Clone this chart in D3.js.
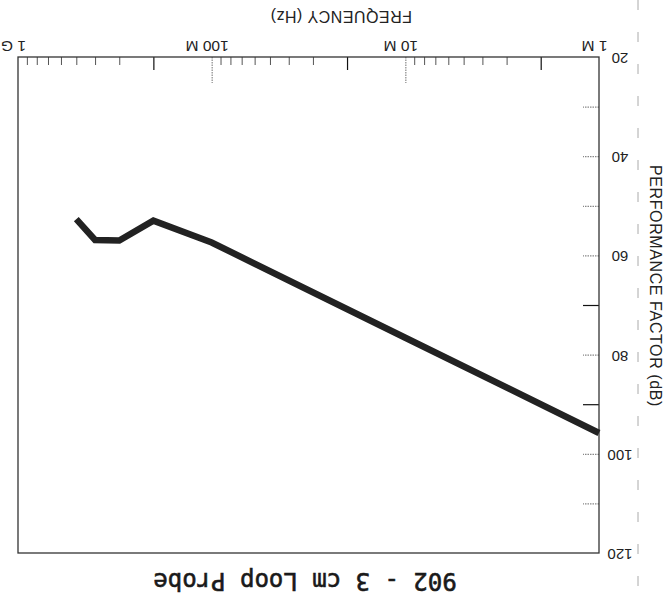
<!DOCTYPE html>
<html><head><meta charset="utf-8">
<script src="https://cdn.jsdelivr.net/npm/d3@7"></script>
<style>html,body{margin:0;padding:0;background:#fff}svg{display:block}</style>
</head><body>
<svg id="chart" width="670" height="602"></svg>
<script>
// Data (chart is printed upside down: rotated 180 degrees)
const freqHz = [5e8, 4e8, 3e8, 2e8, 1e8, 1e7, 1e6];
const perfDb = [52.7, 56.9, 57.0, 53.0, 57.4, 76.6, 95.8];
const xTickValues = [1e6, 1e7, 1e8, 1e9];
const xTickLabels = ["1 M", "10 M", "100 M", "1 G"];
const yTickValues = [20, 40, 60, 80, 100, 120];
const yMinorValues = [30, 40, 50, 60, 70, 80, 90, 100, 110];
const yDarkTicks = [70, 90];
const titleText = "902 - 3 cm Loop Probe";
const xTitleText = "FREQUENCY (Hz)";
const yTitleText = "PERFORMANCE FACTOR (dB)";

const svg = d3.select("#chart");
const L = 18, R = 599, T = 57, B = 553;
const x = d3.scaleLog().domain([1e6, 1e9]).range([R, L]);
const y = d3.scaleLinear().domain([20, 120]).range([T, B]);
const font = "'Liberation Sans', Arial, sans-serif";

// scan artifact line
svg.append("line").attr("x1", 638).attr("x2", 638).attr("y1", 0).attr("y2", 602)
  .attr("stroke", "#aaa").attr("stroke-width", 1).attr("stroke-dasharray", "10,22");

// minor x ticks
const allTicks = x.ticks();
const mant = d => Math.round(d / Math.pow(10, Math.floor(Math.log10(d) + 1e-9)));
const minor = allTicks.filter(d => mant(d) >= 3 && mant(d) <= 9);
const twos = allTicks.filter(d => mant(d) === 2);

const gMinor = svg.append("g").attr("transform", `translate(0,${T})`)
  .call(d3.axisBottom(x).tickValues(minor).tickSize(8).tickFormat(""));
gMinor.select(".domain").remove();
gMinor.selectAll("line").attr("stroke", "#555").attr("stroke-width", 1);

const gTwo = svg.append("g").attr("transform", `translate(0,${T})`)
  .call(d3.axisBottom(x).tickValues(twos).tickSize(13).tickFormat(""));
gTwo.select(".domain").remove();
gTwo.selectAll("line").attr("stroke", "#111").attr("stroke-width", 1.2);

const gDec = svg.append("g").attr("transform", `translate(0,${T})`)
  .call(d3.axisBottom(x).tickValues([1e7, 1e8]).tickSize(26).tickFormat(""));
gDec.select(".domain").remove();
gDec.selectAll("line").attr("stroke", "#888").attr("stroke-width", 1.2).attr("stroke-dasharray", "1.5,1");

// x tick labels
const gXL = svg.append("g").attr("transform", `translate(0,${T})`)
  .call(d3.axisBottom(x).tickValues(xTickValues).tickSize(0).tickFormat((d, i) => xTickLabels[i]));
gXL.select(".domain").remove();
gXL.selectAll("text").attr("y", 0).attr("dy", null)
  .attr("dominant-baseline", "central").attr("text-anchor", "middle")
  .attr("transform", "translate(-5,-11) rotate(180)")
  .attr("font-family", font).attr("font-size", 15.5).attr("fill", "#222");

// y ticks
const gY = svg.append("g").attr("transform", `translate(${R},0)`)
  .call(d3.axisLeft(y).tickValues(yMinorValues).tickSize(16).tickFormat(""));
gY.select(".domain").remove();
gY.selectAll("line")
  .attr("stroke", d => yDarkTicks.includes(d) ? "#111" : "#888")
  .attr("stroke-width", 1.2)
  .attr("stroke-dasharray", d => yDarkTicks.includes(d) ? null : "1.5,1");

// y labels
const gYL = svg.append("g").attr("transform", `translate(${R},0)`)
  .call(d3.axisRight(y).tickValues(yTickValues).tickSize(0));
gYL.select(".domain").remove();
gYL.selectAll("text").attr("x", 0).attr("dy", null)
  .attr("dominant-baseline", "central").attr("text-anchor", "middle")
  .attr("transform", "translate(21,1) rotate(180)")
  .attr("font-family", font).attr("font-size", 15).attr("fill", "#222");

// frame
svg.append("rect").attr("x", L).attr("y", T).attr("width", R - L).attr("height", B - T)
  .attr("fill", "none").attr("stroke", "#333").attr("stroke-width", 1.3);

// data line
const pts = freqHz.map((f, i) => [f, perfDb[i]]);
svg.append("path").datum(pts)
  .attr("d", d3.line().x(d => x(d[0])).y(d => y(d[1])))
  .attr("fill", "none").attr("stroke", "#222").attr("stroke-width", 6.5)
  .attr("stroke-linejoin", "miter").attr("stroke-linecap", "butt");

// titles
svg.append("text").attr("transform", "translate(341,16) rotate(180)")
  .attr("text-anchor", "middle").attr("dominant-baseline", "central")
  .attr("font-family", font).attr("font-size", 16).attr("letter-spacing", 0.5)
  .attr("fill", "#222").text(xTitleText);

svg.append("text").attr("transform", "translate(655,286) rotate(90)")
  .attr("text-anchor", "middle").attr("dominant-baseline", "central")
  .attr("font-family", font).attr("font-size", 16).attr("letter-spacing", 0.6)
  .attr("fill", "#222").text(yTitleText);

svg.append("text").attr("transform", "translate(305,581) rotate(180)")
  .attr("text-anchor", "middle").attr("dominant-baseline", "central")
  .attr("font-family", "'DejaVu Sans Mono', monospace").attr("font-weight", "normal")
  .attr("font-size", 24).attr("fill", "#1a1a1a")
  .attr("stroke", "#1a1a1a").attr("stroke-width", 0.6).text(titleText);
</script>
</body></html>
